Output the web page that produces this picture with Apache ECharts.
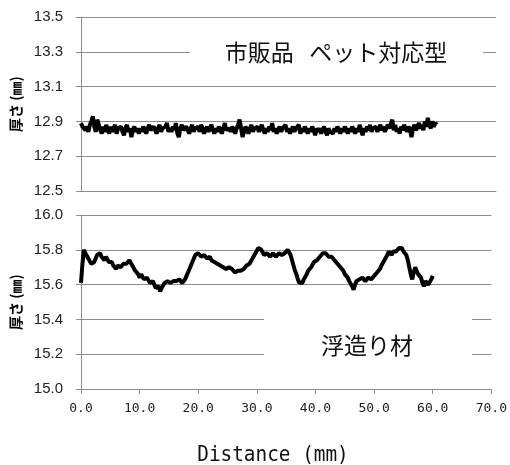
<!DOCTYPE html>
<html>
<head>
<meta charset="utf-8">
<script src="https://cdn.jsdelivr.net/npm/echarts@6/dist/echarts.min.js"></script>
<style>html,body{margin:0;padding:0;background:#fff}#c{width:510px;height:465px}</style>
</head>
<body>
<div id="c"></div>
<script>
const step = 0.25; // sampling interval in mm
const xTicks = ['0.0','10.0','20.0','30.0','40.0','50.0','60.0','70.0'];
const topTicks = ['12.5','12.7','12.9','13.1','13.3','13.5'];
const bottomTicks = ['15.0','15.2','15.4','15.6','15.8','16.0'];
const topLabel = '市販品   ペット対応型';
const bottomLabel = '浮造り材';
const yName = '厚さ (㎜)';
const xName = 'Distance (mm)';

const topValues = [
12.89,12.87,12.88,12.85,12.87,12.84,12.88,12.90,12.93,12.87,12.84,12.91,12.88,12.85,12.83,12.87,12.84,12.88,12.85,12.83,
12.87,12.84,12.86,12.88,12.83,12.86,12.85,12.87,12.84,12.82,12.86,12.88,12.84,12.86,12.81,12.85,12.87,12.84,12.86,12.83,
12.86,12.84,12.87,12.85,12.83,12.86,12.88,12.85,12.84,12.87,12.85,12.83,12.86,12.88,12.84,12.86,12.85,12.87,12.89,12.84,
12.86,12.84,12.87,12.85,12.89,12.83,12.81,12.86,12.88,12.85,12.84,12.87,12.85,12.83,12.86,12.88,12.84,12.86,12.85,12.87,
12.84,12.88,12.86,12.83,12.85,12.87,12.84,12.86,12.88,12.85,12.83,12.86,12.84,12.87,12.85,12.83,12.86,12.89,12.85,12.84,
12.86,12.84,12.87,12.85,12.83,12.86,12.88,12.91,12.86,12.81,12.84,12.87,12.85,12.83,12.86,12.88,12.84,12.86,12.85,12.87,
12.84,12.86,12.88,12.85,12.83,12.86,12.84,12.87,12.85,12.89,12.84,12.86,12.83,12.85,12.87,12.84,12.86,12.85,12.88,12.84,
12.86,12.83,12.85,12.87,12.84,12.86,12.85,12.88,12.83,12.86,12.84,12.87,12.85,12.83,12.86,12.84,12.87,12.85,12.82,12.86,
12.84,12.86,12.83,12.85,12.87,12.84,12.82,12.86,12.84,12.85,12.83,12.86,12.84,12.87,12.85,12.83,12.86,12.84,12.87,12.85,
12.83,12.86,12.84,12.87,12.85,12.83,12.86,12.84,12.88,12.85,12.82,12.86,12.84,12.87,12.85,12.88,12.84,12.86,12.85,12.87,
12.84,12.86,12.88,12.85,12.87,12.84,12.86,12.88,12.86,12.87,12.91,12.85,12.88,12.84,12.86,12.83,12.87,12.85,12.88,12.86,
12.84,12.87,12.85,12.81,12.86,12.88,12.85,12.87,12.89,12.86,12.88,12.85,12.90,12.87,12.92,12.88,12.86,12.90,12.87,12.89,
12.88];

const bottomValues = [
15.61,15.72,15.80,15.78,15.77,15.75,15.74,15.72,15.71,15.73,15.75,15.77,15.77,15.78,15.76,15.75,15.74,15.76,15.75,15.73,
15.72,15.73,15.71,15.70,15.69,15.71,15.71,15.70,15.70,15.72,15.73,15.72,15.72,15.74,15.74,15.71,15.70,15.68,15.67,15.66,
15.64,15.66,15.65,15.63,15.62,15.64,15.63,15.61,15.60,15.62,15.61,15.58,15.57,15.59,15.56,15.58,15.59,15.61,15.61,15.62,
15.62,15.61,15.60,15.62,15.63,15.62,15.61,15.63,15.62,15.61,15.62,15.63,15.65,15.67,15.69,15.71,15.73,15.75,15.77,15.78,
15.78,15.77,15.76,15.77,15.77,15.76,15.75,15.76,15.76,15.74,15.74,15.73,15.73,15.72,15.72,15.71,15.71,15.70,15.70,15.69,
15.69,15.70,15.70,15.69,15.68,15.67,15.67,15.68,15.69,15.68,15.68,15.69,15.70,15.71,15.72,15.72,15.73,15.75,15.76,15.78,
15.79,15.81,15.82,15.80,15.79,15.77,15.77,15.78,15.78,15.76,15.77,15.78,15.78,15.76,15.76,15.78,15.78,15.77,15.77,15.78,
15.79,15.80,15.79,15.77,15.74,15.71,15.68,15.66,15.63,15.61,15.60,15.61,15.63,15.64,15.66,15.68,15.69,15.70,15.71,15.73,
15.74,15.74,15.75,15.76,15.77,15.78,15.79,15.78,15.77,15.76,15.75,15.76,15.76,15.74,15.73,15.72,15.71,15.70,15.69,15.68,
15.66,15.65,15.64,15.62,15.61,15.59,15.57,15.60,15.62,15.63,15.63,15.64,15.64,15.63,15.62,15.63,15.64,15.63,15.63,15.64,
15.65,15.66,15.67,15.68,15.69,15.71,15.72,15.74,15.75,15.77,15.79,15.78,15.77,15.79,15.80,15.79,15.79,15.81,15.82,15.81,
15.79,15.78,15.77,15.74,15.70,15.66,15.63,15.67,15.70,15.68,15.66,15.65,15.64,15.61,15.59,15.62,15.63,15.60,15.60,15.63,
15.65];

const toPairs = vals => vals.map((v, i) => [i * step, v]);

const axisGray = '#8c8c8c';
const labelColor = '#222';
const tickNum = arr => arr.map(Number);

function yAxisCfg(ticks, gridIndex) {
  const nums = tickNum(ticks);
  return {
    type: 'value', gridIndex: gridIndex,
    min: nums[0], max: nums[nums.length - 1],
    interval: +(nums[1] - nums[0]).toFixed(1),
    name: yName, nameLocation: 'middle', nameGap: 57,
    nameTextStyle: {fontFamily: 'Noto Sans CJK JP', fontWeight: 'bold', fontSize: 14, color: '#000'},
    axisLine: {show: true, lineStyle: {color: axisGray, width: 1}},
    axisTick: {show: true, inside: false, length: 5, lineStyle: {color: axisGray}},
    axisLabel: {color: labelColor, fontFamily: 'Liberation Sans', fontSize: 15, margin: 18,
      formatter: v => v.toFixed(1)},
    splitLine: {show: true, lineStyle: {color: axisGray, width: 1}}
  };
}

const xNums = tickNum(xTicks);
function xAxisCfg(gridIndex, showLabels) {
  return {
    type: 'value', gridIndex: gridIndex,
    min: xNums[0], max: xNums[xNums.length - 1], interval: xNums[1] - xNums[0],
    axisLine: {show: true, onZero: false, lineStyle: {color: axisGray, width: 1}},
    axisTick: {show: showLabels, length: 5, lineStyle: {color: axisGray}},
    axisLabel: {show: showLabels, color: labelColor, fontFamily: 'DejaVu Sans Mono', fontSize: 13, margin: 13,
      formatter: v => v.toFixed(1)},
    splitLine: {show: false}
  };
}

const chart = echarts.init(document.getElementById('c'), null, {renderer: 'canvas'});
chart.setOption({
  animation: false,
  backgroundColor: '#fff',
  grid: [
    {left: 81, top: 17, width: 415, height: 174, containLabel: false},
    {left: 81, top: 215, width: 415, height: 174, containLabel: false}
  ],
  xAxis: [xAxisCfg(0, false), xAxisCfg(1, true)],
  yAxis: [yAxisCfg(topTicks, 0), yAxisCfg(bottomTicks, 1)],
  series: [
    {type: 'line', xAxisIndex: 0, yAxisIndex: 0, data: toPairs(topValues), showSymbol: false,
      lineStyle: {color: '#000', width: 4}, z: 3},
    {type: 'line', xAxisIndex: 1, yAxisIndex: 1, data: toPairs(bottomValues), showSymbol: false,
      lineStyle: {color: '#000', width: 4}, z: 3}
  ],
  graphic: [
    {type: 'rect', left: 190, top: 38, shape: {width: 293, height: 28}, style: {fill: '#fff'}, z: 10},
    {type: 'text', x: 336, y: 52, style: {text: topLabel, fill: '#111', font: '23px "Noto Sans CJK JP"',
      align: 'center', verticalAlign: 'middle'}, z: 11},
    {type: 'rect', left: 264, top: 314, shape: {width: 208, height: 46}, style: {fill: '#fff'}, z: 10},
    {type: 'text', x: 367, y: 345, style: {text: bottomLabel, fill: '#111', font: '23px "Noto Sans CJK JP"',
      align: 'center', verticalAlign: 'middle'}, z: 11},
    {type: 'text', x: 273, y: 455, scaleX: 0.88, style: {text: xName, fill: '#111', font: '22px "DejaVu Sans Mono"',
      align: 'center', verticalAlign: 'middle'}, z: 11}
  ]
});
</script>
</body>
</html>
